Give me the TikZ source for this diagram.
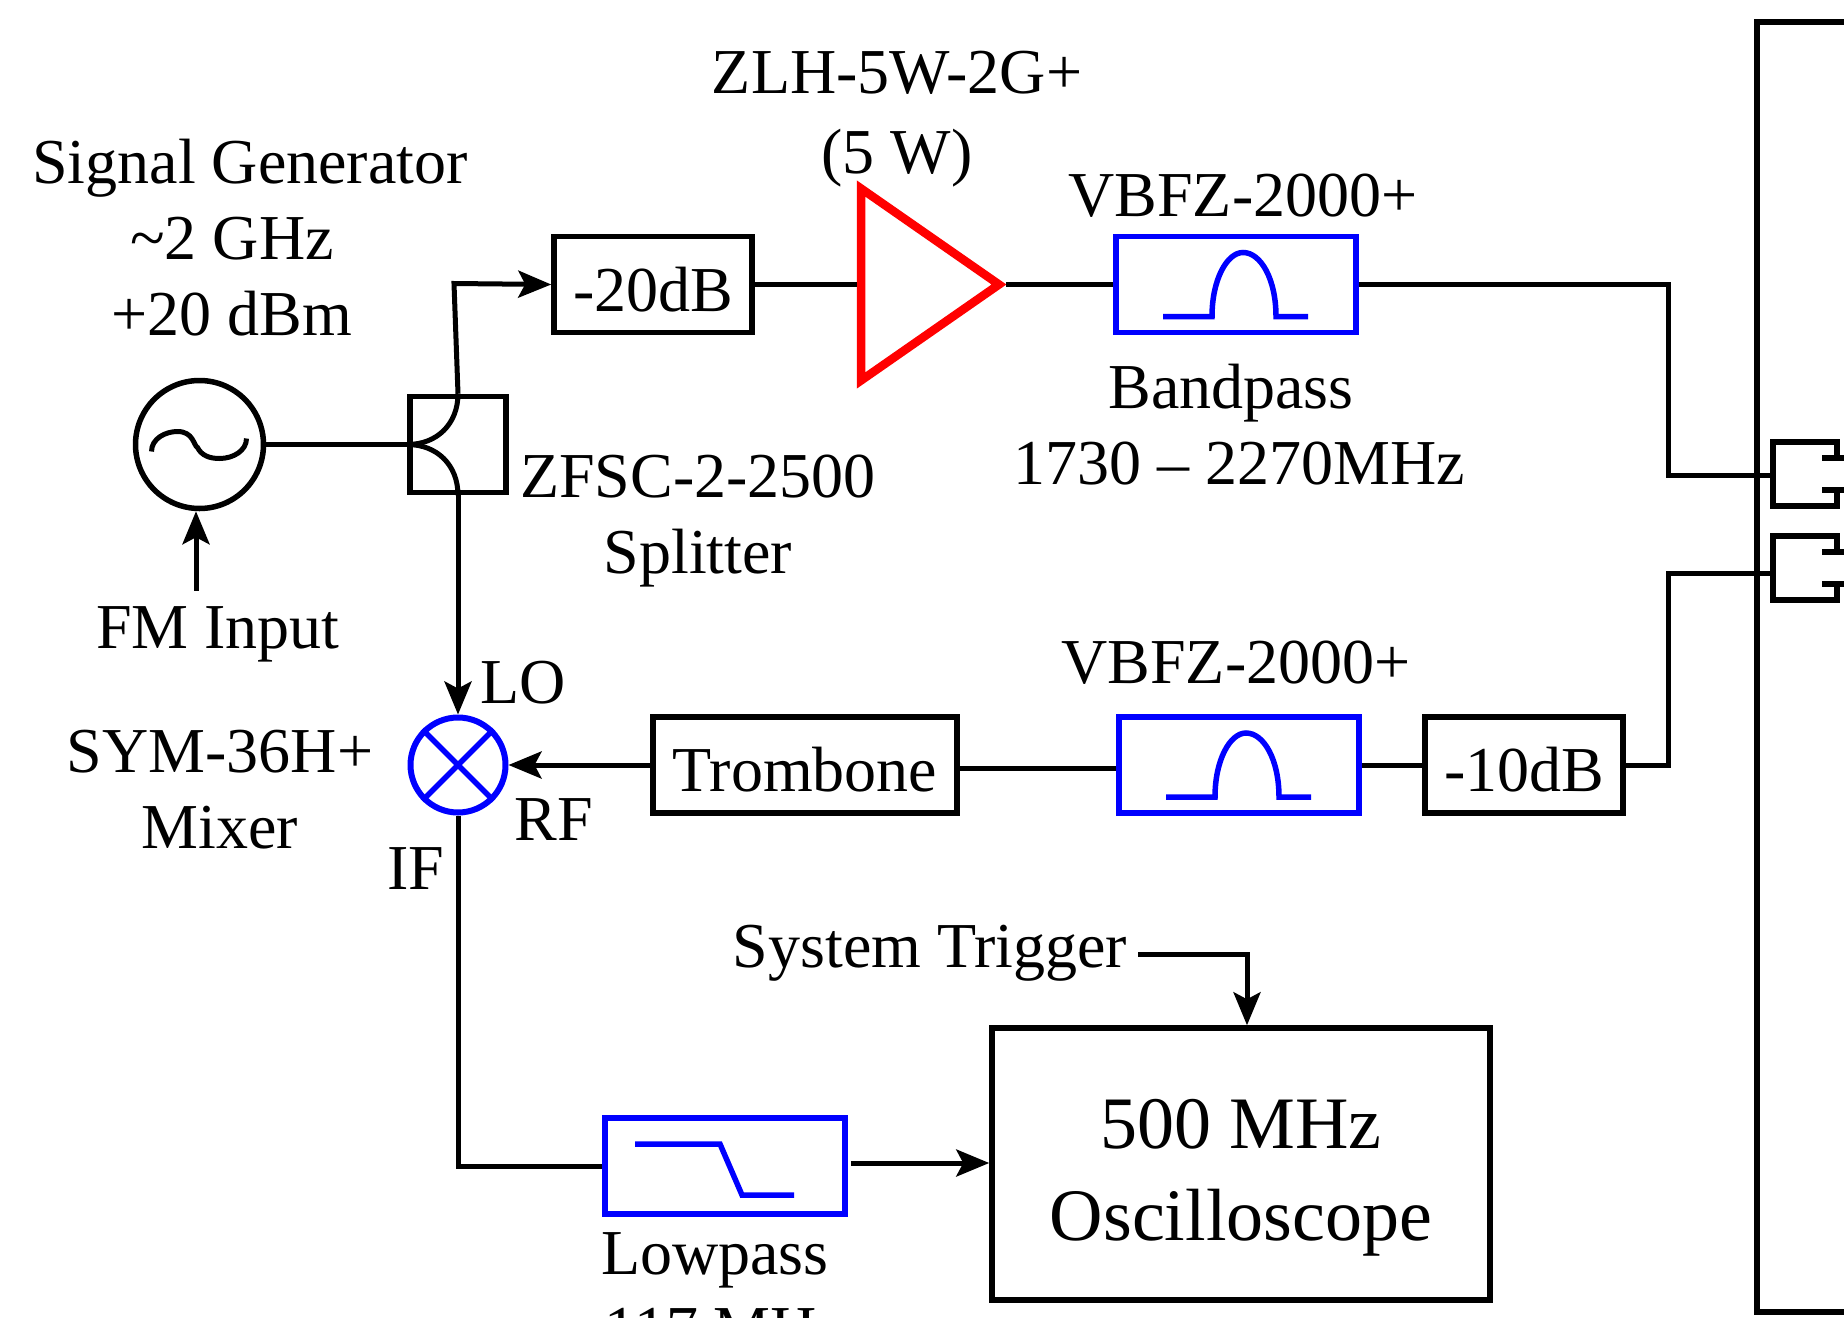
\documentclass[tikz,border=0pt]{standalone}
\usepackage{fontspec}
\setmainfont{Liberation Serif}
\usetikzlibrary{shapes, arrows.meta, positioning}

\begin{document}
\begin{tikzpicture} [
    x = 1pt, y = -1pt,
    node distance = 100pt,
    on grid,
    wire/.style = {line width = 5pt, line cap = butt},
    feed/.style = {wire, -{Stealth[length = 33pt, width = 27pt, inset = 7pt]}},
    lbl/.style = {inner sep = 0pt, align = center,
        font = \fontsize{64}{76}\selectfont},
    blackbox/.style = {draw, line width = 5.5pt, inner sep = 0pt,
        minimum height = 96pt, text height = 53pt, text depth = 0pt,
        font = \fontsize{64}{76}\selectfont},
    bluebox/.style = {blackbox, draw = blue, line width = 5.5pt,
        minimum width = 240pt, minimum height = 96pt},
    trace/.style = {draw = blue, line width = 5.5pt},
    coupler/.style = {line width = 5.5pt}]

\clip (0,0) rectangle (1844,1317);

% Splitter
\node (split) [blackbox, minimum width = 96pt, minimum height = 96pt] at (458,444.5) {};

% Generator
\node (sig) [circle, draw, line width = 5.5pt, inner sep = 0pt, minimum size = 128pt,
    left = 258.5pt of split] {};
\node (siglbl) [lbl, above right = 206.5pt and 32.5pt of sig]
    {\hspace*{36pt}Signal Generator\\\textasciitilde 2 GHz\\+20 dBm};
\node (fmtail) [coordinate, below left = 146pt and 3.5pt of sig] {};
\node (fmlbl) [lbl, below right = 190pt and 18.5pt of sig] {FM Input};
\draw [line width = 5pt, shift = {(sig.center)}]
    (-48,7) .. controls (-48,-6) and (-34,-13) .. (-22,-13)
    .. controls (-6,-13) and (-6,1) .. (-2,3)
    .. controls (2,11) and (10,14) .. (20,14)
    .. controls (34,14) and (47,6) .. (47,-6);

% Top chain
\node (attena) [blackbox, minimum width = 198pt, above right = 160pt and 195pt of split] {-20dB};
\node (amp) [isosceles triangle, isosceles triangle stretches, draw = red, line width = 8.5pt,
    inner sep = 0pt, outer sep = 0pt, minimum width = 192pt, minimum height = 138pt,
    right = 208pt of attena, anchor = lower side] {};
\node (zlhlbl) [lbl, above right = 165pt and 244pt of attena] {ZLH-5W-2G+\\[4pt](5 W)};
\node (bpa) [bluebox, right = 583pt of attena] {};
\node (vbfza) [lbl, above right = 89pt and 7pt of bpa] {VBFZ-2000+};
\node (bpalbl) [lbl, below right = 140pt and 3pt of bpa] {Bandpass\hspace*{16pt}\\1730 – 2270MHz};
\node (zfsclbl) [lbl, below right = 77pt and 240pt of split] {ZFSC-2-2500\\Splitter};

% Mixer row
\node (mixer) [circle, draw = blue, line width = 6pt, inner sep = 0pt, minimum size = 95pt,
    below = 320.5pt of split] {};
\node (lolbl) [lbl, above right = 82pt and 65pt of mixer] {LO};
\node (rflbl) [lbl, below right = 55pt and 96pt of mixer] {RF};
\node (iflbl) [lbl, below left = 104pt and 42pt of mixer] {IF};
\node (symlbl) [lbl, below left = 25pt and 238pt of mixer] {SYM-36H+\\Mixer};
\node (trombone) [blackbox, minimum width = 304pt, right = 347pt of mixer] {Trombone};
\node (bpb) [bluebox, right = 434pt of trombone] {};
\node (vbfzb) [lbl, above left = 102pt and 3pt of bpb] {VBFZ-2000+};
\node (attenb) [blackbox, minimum width = 198pt, right = 285pt of bpb] {-10dB};

% Bottom row
\node (lowp) [bluebox, minimum width = 240pt, below right = 401pt and 267pt of mixer] {};
\node (lowplbl) [lbl, below = 126pt of lowp] {Lowpass\hspace*{20pt}\\117 MHz};
\node (scope) [draw, line width = 5.5pt, align = center, inner sep = 0pt,
    minimum width = 498pt, minimum height = 272pt, text height = 168pt,
    font = \fontsize{74}{92}\selectfont, above right = 2pt and 516pt of lowp] {500 MHz\\Oscilloscope};
\node (triglbl) [lbl, above left = 211pt and 311pt of scope] {System Trigger};
\node (trigtail) [coordinate, above left = 210pt and 103pt of scope] {};

% Instrument on the right
\node (chassis) [draw, line width = 5.5pt, inner sep = 0pt, minimum width = 200pt,
    minimum height = 1290pt] at (1857,667) {};
\coordinate (porta) at (1773,474);
\coordinate (portb) at (1773,568);
\coordinate (risera) at (1668,475);
\coordinate (riserb) at (1668,573);
\foreach \port in {porta, portb}
    \draw [coupler, shift = {(\port)}]
        (64,-16) -- (64,-32) -- (0,-32) -- (0,32) -- (64,32) -- (64,16)
        (49,-16) -- (72,-16)
        (49,16) -- (72,16);

% Filter traces
\foreach \filt in {bpa, bpb}
    \draw [trace, shift = {(\filt.center)}]
        (-73,32) -- (-24,32) .. controls (-24,-5) and (-9,-32) .. (7,-32)
        .. controls (25,-32) and (40,-5) .. (40,32) -- (72,32);
\draw [trace, shift = {(lowp.center)}]
    (-90,-22) -- (-5,-22) -- (17,29) -- (69,29);

% Mixer cross
\draw [trace] (mixer.45) -- (mixer.225);
\draw [trace] (mixer.135) -- (mixer.315);

% Arrows
\node (splitup) [coordinate, above left = 161pt and 4pt of split] {};
\draw [wire] (sig.east) -- (split.west);
\draw [wire] (split.west) .. controls +(30,0) and +(0,30) .. (split.north);
\draw [wire] (split.west) .. controls +(30,0) and +(0,-30) .. (split.south);
\draw [feed] (split.north) -- (splitup) -- (attena.west);
\draw [feed] (split.south) -- (mixer.north);
\draw [feed] (fmtail) -- (fmtail |- sig.south);
\draw [feed] (trombone.west) -- (mixer.east);
\draw [wire] (attena.east) -- ([xshift = -4pt]amp.lower side);
\draw [wire] ([xshift = 7pt]amp.apex) -- (bpa.west);
\draw [wire] (bpa.east) -| (risera) -- (risera -| porta);
\draw [wire] (attenb.east) -| (riserb) -- (riserb -| portb);
\draw [wire] (bpb.east) -- (attenb.west);
\draw [wire] ([yshift = -3pt]trombone.east) -- ([yshift = -3pt]bpb.west);
\draw [wire] (mixer.south) |- (lowp.west);
\draw [feed] ([xshift = 3pt, yshift = 3pt]lowp.east) -- ([yshift = 1pt]scope.west);
\draw [feed] (trigtail) -| ([xshift = 6pt]scope.north);
\end{tikzpicture}
\end{document}
